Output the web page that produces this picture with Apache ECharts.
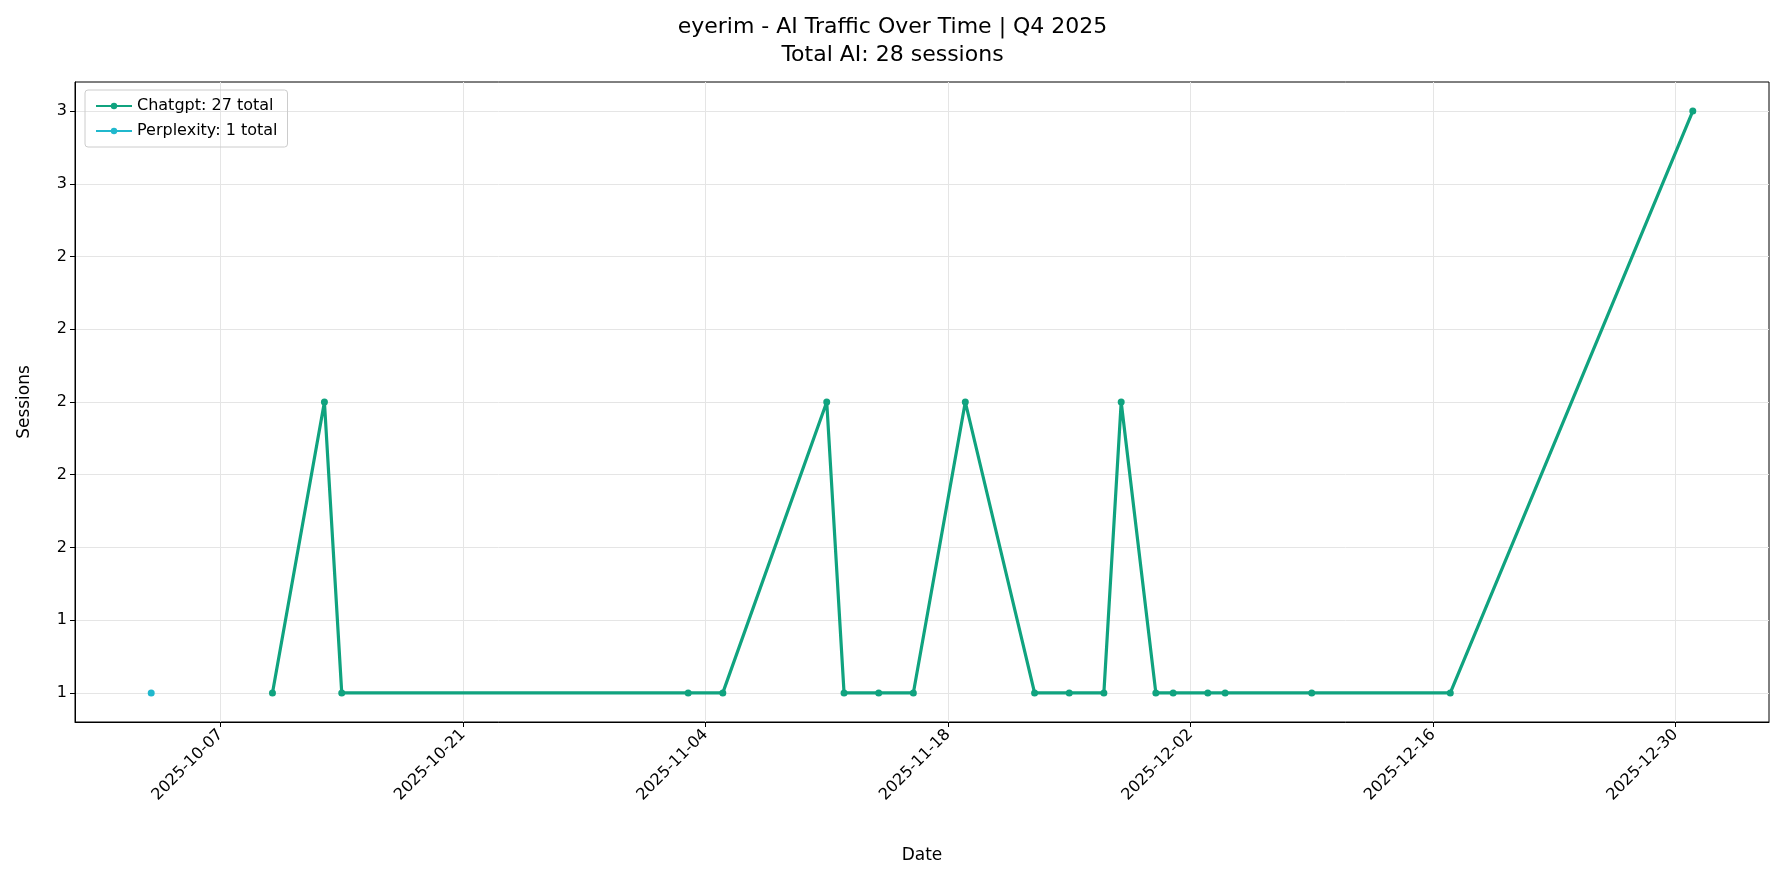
<!DOCTYPE html>
<html>
<head>
<meta charset="utf-8">
<script src="https://cdn.jsdelivr.net/npm/echarts@6/dist/echarts.min.js"></script>
<style>html,body{margin:0;padding:0;background:#fff}#chart{width:1785px;height:883px}</style>
</head>
<body>
<div id="chart"></div>
<script>
// data
var chatgptDates = ['2025-10-10','2025-10-13','2025-10-14','2025-11-03','2025-11-05','2025-11-11','2025-11-12','2025-11-14','2025-11-16','2025-11-19','2025-11-23','2025-11-25','2025-11-27','2025-11-28','2025-11-30','2025-12-01','2025-12-03','2025-12-04','2025-12-09','2025-12-17','2025-12-31'];
var chatgptValues = [1,2,1,1,1,2,1,1,1,2,1,1,1,2,1,1,1,1,1,1,3];
var perplexityDates = ['2025-10-03'];
var perplexityValues = [1];
var xTickDates = ['2025-10-07','2025-10-21','2025-11-04','2025-11-18','2025-12-02','2025-12-16','2025-12-30'];
var yTicks = [1,1.25,1.5,1.75,2,2.25,2.5,2.75,3];

var base = Date.UTC(2025, 9, 7);
function dayOf(s) {
    var p = s.split('-');
    return (Date.UTC(+p[0], +p[1] - 1, +p[2]) - base) / 86400000;
}
function pairs(dates, vals) {
    return dates.map(function (d, i) { return [dayOf(d), vals[i]]; });
}
var tickDays = xTickDates.map(dayOf);
// matplotlib-style rounding of tick labels (half to even)
function roundEven(v) {
    var f = Math.floor(v), r = v - f;
    if (Math.abs(r - 0.5) < 1e-9) return f % 2 === 0 ? f : f + 1;
    return Math.round(v);
}

var font = 'DejaVu Sans';
var myChart = echarts.init(document.getElementById('chart'));
myChart.setOption({
    animation: false,
    textStyle: {fontFamily: font},
    title: {
        text: 'eyerim - AI Traffic Over Time | Q4 2025\nTotal AI: 28 sessions',
        left: 'center',
        top: 8,
        textStyle: {fontSize: 22, fontWeight: 'normal', color: '#000', lineHeight: 28, fontFamily: font}
    },
    legend: {
        left: 85, top: 90,
        orient: 'vertical',
        borderColor: '#ccc', borderWidth: 1, borderRadius: 3,
        padding: [8, 10],
        itemGap: 9,
        itemWidth: 36, itemHeight: 8,
        textStyle: {fontSize: 16, color: '#000', fontFamily: font},
        data: ['Chatgpt: 27 total', 'Perplexity: 1 total']
    },
    grid: {left: 75, right: 16, top: 82, bottom: 161, show: true, borderColor: '#000', borderWidth: 1},
    xAxis: {
        type: 'value',
        min: -8.4, max: 89.4,
        name: 'Date', nameLocation: 'middle', nameGap: 125,
        nameTextStyle: {fontSize: 17, color: '#000'},
        axisLine: {onZero: false, lineStyle: {color: '#000'}},
        axisTick: {show: true, customValues: tickDays, length: 5, lineStyle: {color: '#000'}},
        axisLabel: {
            customValues: tickDays, rotate: 45, fontSize: 16, color: '#000', margin: 10,
            formatter: function (v) { return xTickDates[tickDays.indexOf(v)] || ''; }
        },
        splitLine: {show: true, lineStyle: {color: '#e5e5e5'}}
    },
    yAxis: {
        type: 'value',
        min: 0.9, max: 3.1,
        name: 'Sessions', nameLocation: 'middle', nameGap: 42,
        nameTextStyle: {fontSize: 17, color: '#000'},
        axisLine: {show: true, onZero: false, lineStyle: {color: '#000'}},
        axisTick: {show: true, customValues: yTicks, length: 5, lineStyle: {color: '#000'}},
        axisLabel: {
            customValues: yTicks, fontSize: 16, color: '#000',
            formatter: function (v) { return String(roundEven(v)); }
        },
        splitLine: {show: true, lineStyle: {color: '#e5e5e5'}}
    },
    series: [
        {
            name: 'Chatgpt: 27 total',
            type: 'line',
            data: pairs(chatgptDates, chatgptValues),
            symbol: 'circle', symbolSize: 7,
            lineStyle: {width: 3.2, color: '#10a37f'},
            itemStyle: {color: '#10a37f'}
        },
        {
            name: 'Perplexity: 1 total',
            type: 'line',
            data: pairs(perplexityDates, perplexityValues),
            symbol: 'circle', symbolSize: 7,
            lineStyle: {width: 3.2, color: '#20b8cd'},
            itemStyle: {color: '#20b8cd'}
        }
    ]
});
</script>
</body>
</html>
